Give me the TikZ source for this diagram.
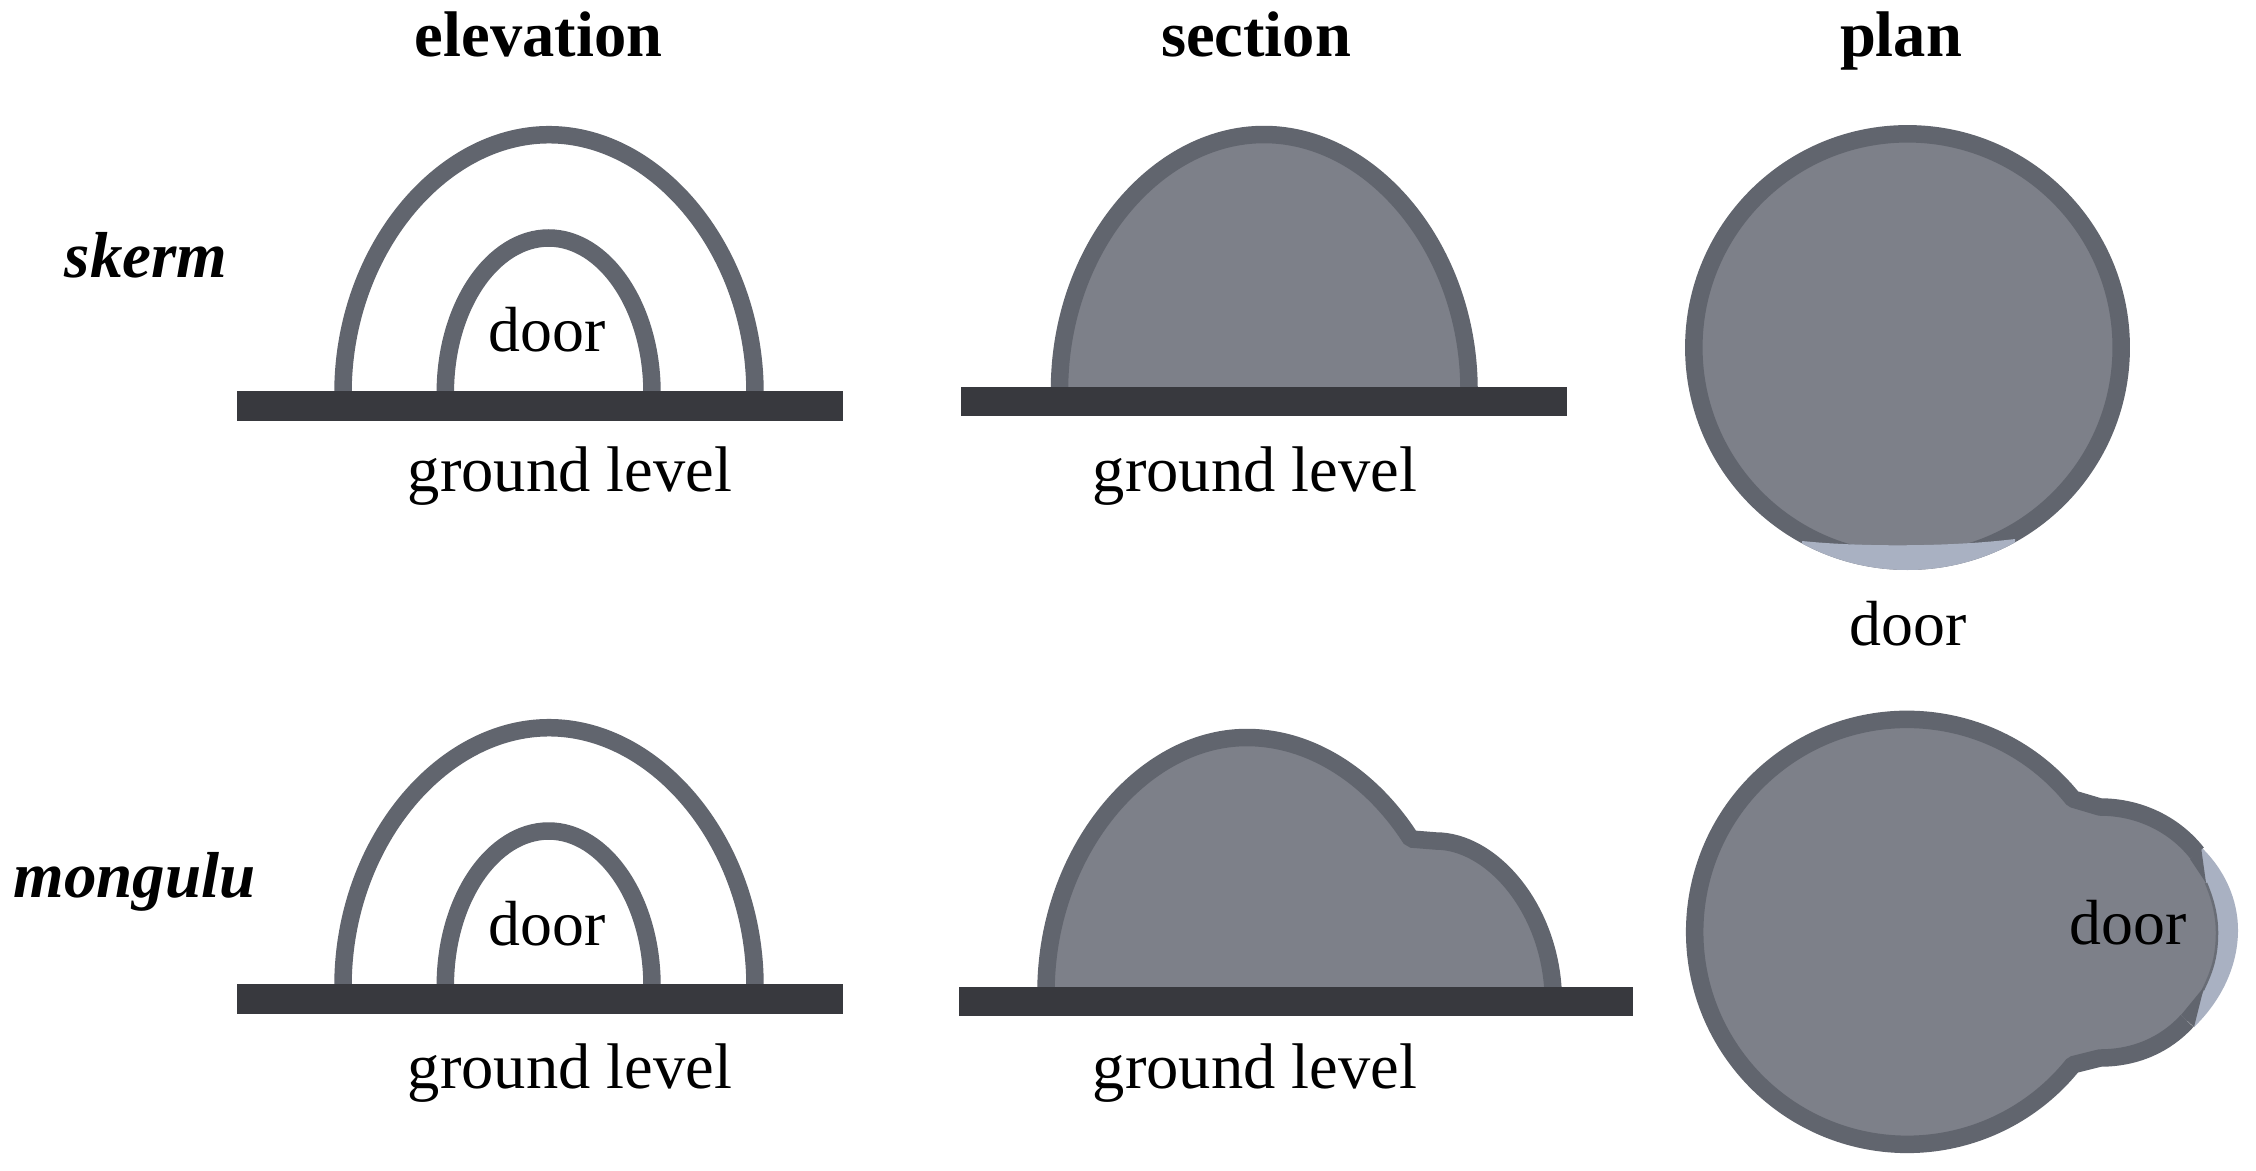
\documentclass[tikz,border=0pt]{standalone}
\usepackage{fontspec}
\setmainfont{Liberation Serif}
\definecolor{wall}{HTML}{61656E}
\definecolor{bodygrey}{HTML}{7D8089}
\definecolor{ground}{HTML}{38393E}
\definecolor{doorblue}{HTML}{A9B1C2}
\tikzset{
  labtext/.style={anchor=base,inner sep=0pt,font=\fontsize{63.8}{70}\selectfont,text=black},
  longtext/.style={labtext,font=\fontsize{64.5}{70}\selectfont},
  headtext/.style={labtext,font=\fontsize{64.5}{70}\selectfont\bfseries},
  nametext/.style={labtext,font=\fontsize{65}{70}\selectfont\bfseries\itshape},
  arch/.style={draw=wall,line width=17.5pt},
  solidbody/.style={draw=wall,fill=bodygrey,line width=17.5pt,line join=bevel},
  groundbar/.style={fill=ground,draw=none},
}
\begin{document}
\begin{tikzpicture}[x=1pt,y=-1pt]
\useasboundingbox (0,0) rectangle (2256,1170);
\fill[white] (0,0) rectangle (2256,1170);
% elevation, both rows
\foreach \dy in {0,593}{
\begin{scope}[shift={(0,\dy)}]
\draw[arch] (343,393) .. controls (343,252) and (440,134.7) .. (549,134.7) .. controls (658,134.7) and (755,252) .. (755,393);
\draw[arch] (445.3,393) .. controls (445.3,306) and (493,238) .. (548.7,238) .. controls (604,238) and (652,306) .. (652,393);
\fill[groundbar] (237,391) rectangle (843,420.5);
\end{scope}}
% section, row 1
\draw[solidbody] (1059.5,390) .. controls (1059.5,250) and (1155,134.5) .. (1264,134.5) .. controls (1373,134.5) and (1469,250) .. (1469,390);
\fill[groundbar] (961,386.5) rectangle (1567,415.5);
% section, row 2
\draw[solidbody] (1046,990) .. controls (1047,852) and (1142,737.5) .. (1246.7,737.5) .. controls (1312,737.5) and (1372,778) .. (1411,839) -- (1436,841) .. controls (1490,841) and (1548,905) .. (1553,990);
\fill[groundbar] (959.3,986.5) rectangle (1633.3,1016);
% plan, row 1
\draw[solidbody] (1907.5,347.5) circle[radius=213.7];
\begin{scope}
\clip (1907.5,347.5) circle[radius=222.5];
\fill[doorblue] (1802,541) .. controls (1860,547) and (1950,547) .. (2015,539) -- (2015,600) -- (1802,600) -- cycle;
\end{scope}
% plan, row 2
\fill[doorblue] (2201,847) .. controls (2225,870) and (2238,900) .. (2238,930) .. controls (2238,965) and (2222,1000) .. (2194,1027) -- (2185,1000) -- (2185,880) -- cycle;
\fill[bodygrey] (1907,932) circle[radius=212.5];
\fill[bodygrey] (2073,799) -- (2100,807) .. controls (2140,807) and (2175,825) .. (2197,853) -- (2206,883) .. controls (2213,900) and (2217,915) .. (2217,933) .. controls (2217,960) and (2205,995) .. (2187,1021) .. controls (2165,1045) and (2135,1058) .. (2100,1058) -- (2073,1064) -- cycle;
\draw[draw=wall!70!bodygrey,line width=2.5pt] (2206,883) .. controls (2213,900) and (2217,915) .. (2217,933) .. controls (2217,960) and (2210,975) .. (2203,990);
\draw[draw=wall,line width=17.5pt,line join=bevel] (2197,853) .. controls (2175,825) and (2140,807) .. (2100,807) -- (2073,799) arc[start angle=-38.7,end angle=-321.3,radius=212.5] -- (2100,1058) .. controls (2135,1058) and (2165,1045) .. (2187,1021);
\fill[wall] (2201,847) -- (2206,883) -- (2190,859) -- cycle;
\fill[wall] (2194,1027) -- (2204,987) -- (2181,1015) -- cycle;
% labels
\node[headtext] (h1) at (538.5,56.7) {elevation};
\node[headtext] (h2) at (1256,56.7) {section};
\node[headtext] (h3) at (1901,56.7) {plan};
\node[nametext] (n1) at (146,277.3) {skerm};
\node[nametext] (n2) at (134.5,897) {mongulu};
\node[labtext] (d1) at (546.8,351.7) {door};
\node[labtext] (d2) at (546.8,945) {door};
\node[labtext] (d3) at (1908,645) {door};
\node[labtext] (d4) at (2128,944) {door};
\node[longtext] (g1) at (570,491.7) {ground level};
\node[longtext] (g2) at (570,1088.3) {ground level};
\node[longtext] (g3) at (1255,491.7) {ground level};
\node[longtext] (g4) at (1255,1088.3) {ground level};
\end{tikzpicture}
\end{document}
